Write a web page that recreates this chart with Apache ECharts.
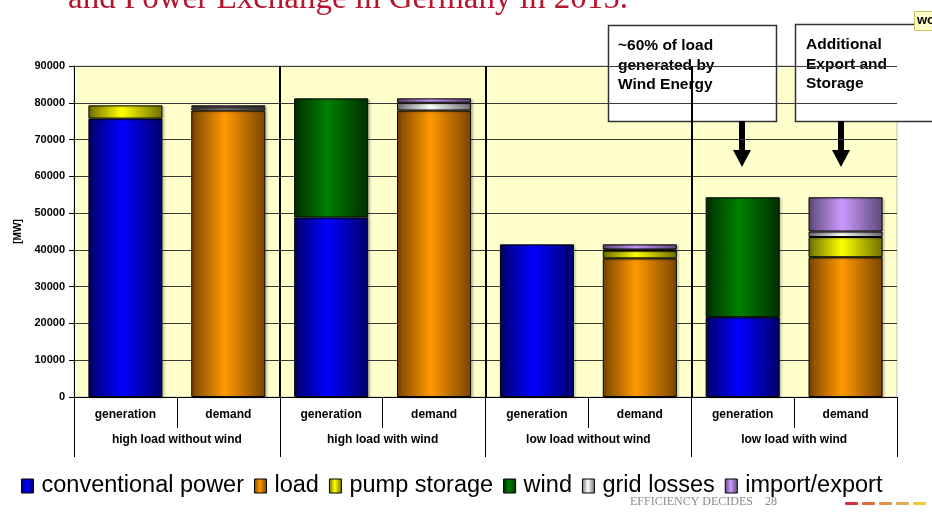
<!DOCTYPE html>
<html>
<head>
<meta charset="utf-8">
<script src="https://cdn.jsdelivr.net/npm/echarts@6/dist/echarts.min.js"></script>
<style>
html,body{margin:0;padding:0;background:#fff;}
#c{width:932px;height:518px;}
</style>
</head>
<body>
<div id="c"></div>
<script>
// ---- data ----
var categories = ['generation','demand','generation','demand','generation','demand','generation','demand'];
var groups = ['high load without wind','high load with wind','low load without wind','low load with wind'];
var conventionalPower = [75700, null, 48800, null, 41500, null, 21700, null];
var load            = [null, 77900, null, 77900, null, 37700, null, 38000];
var pumpStorage     = [3600, null, null, null, null, 2100, null, 5500];
var wind            = [null, null, 32400, null, null, null, 32600, null];
var gridLosses      = [null, 800, null, 2100, null, 300, null, 1500];
var importExport    = [null, 600, null, 1200, null, 1400, null, 9300];
var yTicks = [0, 90000, 10000]; // min, max, interval

var chart = echarts.init(document.getElementById('c'));
var SANS = '"Liberation Sans", Arial, sans-serif';
var NARROW = '"Liberation Sans Narrow", "Liberation Sans", Arial, sans-serif';

function grad(dark, bright) {
  return new echarts.graphic.LinearGradient(0, 0, 1, 0, [
    {offset: 0, color: dark},
    {offset: 0.45, color: bright},
    {offset: 1, color: dark}
  ]);
}

function mk(name, data, dark, bright) {
  return {
    name: name, type: 'bar', stack: 'total', data: data,
    barWidth: '72%',
    itemStyle: {color: grad(dark, bright), borderColor: '#000', borderWidth: 1,
      shadowColor: 'rgba(0,0,0,0.18)', shadowOffsetX: 2, shadowOffsetY: 1, shadowBlur: 2},
    emphasis: {disabled: true}
  };
}

function arrow(cx) {
  return {
    type: 'polygon',
    shape: {points: [[cx-3,121],[cx+3,121],[cx+3,150],[cx+9,150],[cx,167],[cx-9,150],[cx-3,150]]},
    style: {fill: '#000'}
  };
}

var dashColors = ['#D42E3C','#E0683C','#E09048','#E0A858','#F0C838'];
var dashes = dashColors.map(function(c, i){
  return {type:'rect', shape:{x: 845 + i*17, y: 502, width: 13, height: 3, r: 1}, style:{fill: c}};
});

var option = {
  animation: false,
  backgroundColor: '#fff',
  grid: {left: 74, right: 35, top: 66, bottom: 121, show: true,
    backgroundColor: '#FFFFCC', borderColor: '#bdbdbd', borderWidth: 1},
  legend: {
    left: 16, top: 469, itemWidth: 12, itemHeight: 14, itemGap: 10,
    icon: 'rect',
    itemStyle: {borderColor: '#000', borderWidth: 1},
    textStyle: {fontFamily: NARROW, fontSize: 23.5, color: '#000', padding: [0,0,0,3]},
    data: ['conventional power','load','pump storage','wind','grid losses','import/export']
  },
  xAxis: [{
    type: 'category', data: categories, position: 'bottom',
    axisLine: {lineStyle: {color: '#000', width: 1}},
    axisTick: {show: true, length: 31, interval: 0, lineStyle: {color: '#000'}},
    axisLabel: {interval: 0, margin: 12, fontFamily: NARROW, fontWeight: 'bold', fontSize: 12, color: '#000'}
  }, {
    type: 'category', data: groups, position: 'bottom',
    axisLine: {show: false},
    axisTick: {show: true, length: 60, interval: 0, lineStyle: {color: '#000'}},
    axisLabel: {interval: 0, margin: 37, fontFamily: NARROW, fontWeight: 'bold', fontSize: 12, color: '#000'},
    splitLine: {show: true, interval: 0, lineStyle: {
      color: ['rgba(0,0,0,0)', '#000', '#000', '#000', 'rgba(0,0,0,0)'], width: 2}}
  }],
  yAxis: {
    type: 'value', min: yTicks[0], max: yTicks[1], interval: yTicks[2],
    name: '[MW]', nameLocation: 'middle', nameGap: 51, nameRotate: 90,
    nameTextStyle: {fontFamily: SANS, fontWeight: 'bold', fontSize: 10, color: '#000'},
    axisLine: {show: true, lineStyle: {color: '#000'}},
    axisTick: {show: true, length: 5, lineStyle: {color: '#000'}},
    axisLabel: {margin: 9, fontFamily: SANS, fontWeight: 'bold', fontSize: 11, color: '#000',
      formatter: function(v){ return String(v); }},
    splitLine: {show: true, lineStyle: {color: '#3a3a3a', width: 1}}
  },
  series: [
    mk('conventional power', conventionalPower, '#00006A', '#0000FF'),
    mk('load', load, '#7A4500', '#FF9900'),
    mk('pump storage', pumpStorage, '#6E6E00', '#FFFF00'),
    mk('wind', wind, '#002E00', '#008000'),
    mk('grid losses', gridLosses, '#6E6E6E', '#FFFFFF'),
    mk('import/export', importExport, '#5E4A78', '#CC99FF')
  ],
  graphic: [
    {type: 'text', left: 68, top: -17, style: {text: 'and Power Exchange in Germany in 2015.',
      fontFamily: '"Liberation Serif", "DejaVu Serif", serif', fontSize: 33, fill: '#B5152F'}},
    {type: 'rect', shape: {x: 608.5, y: 25.5, width: 168, height: 96},
      style: {fill: '#fff', stroke: '#333', lineWidth: 1.5}},
    {type: 'text', x: 618, y: 36, style: {text: '~60% of load\ngenerated by\nWind Energy',
      fontFamily: SANS, fontWeight: 'bold', fontSize: 15.5, lineHeight: 19.5, fill: '#000'}},
    {type: 'rect', shape: {x: 795.5, y: 24.5, width: 160, height: 97},
      style: {fill: '#fff', stroke: '#333', lineWidth: 1.5}},
    {type: 'text', x: 806, y: 35, style: {text: 'Additional\nExport and\nStorage',
      fontFamily: SANS, fontWeight: 'bold', fontSize: 15.5, lineHeight: 19.5, fill: '#000'}},
    arrow(742), arrow(841),
    {type: 'rect', shape: {x: 914.5, y: 11.5, width: 30, height: 19},
      style: {fill: '#FFFFCC', stroke: '#C8C85A', lineWidth: 1}},
    {type: 'text', x: 917, y: 14, style: {text: 'wo', fontFamily: SANS, fontWeight: 'bold', fontSize: 13, fill: '#000'}},
    {type: 'text', x: 630, y: 496, style: {text: 'EFFICIENCY DECIDES    28',
      fontFamily: '"Liberation Serif", serif', fontSize: 12, fill: '#8a8a8a'}}
  ].concat(dashes)
};
chart.setOption(option);
</script>
</body>
</html>
